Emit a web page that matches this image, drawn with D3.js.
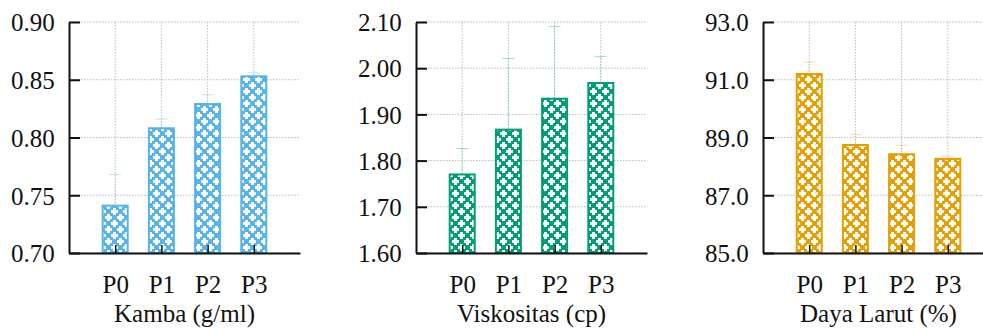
<!DOCTYPE html>
<html>
<head>
<meta charset="utf-8">
<script src="https://cdn.jsdelivr.net/npm/d3@7"></script>
<style>
  body { margin: 0; background: #fff; }
  svg text { fill: #111; }
</style>
</head>
<body>
<div id="chart"></div>
<script>
// data
const categories = ["P0", "P1", "P2", "P3"];

const kamba = [0.741, 0.808, 0.829, 0.853];
const kambaErr = [0.027, 0.008, 0.008, 0.003];
const kambaTicks = [0.70, 0.75, 0.80, 0.85, 0.90];

const viskositas = [1.770, 1.867, 1.934, 1.968];
const viskositasErr = [0.056, 0.154, 0.156, 0.057];
const viskositasTicks = [1.60, 1.70, 1.80, 1.90, 2.00, 2.10];

const dayaLarut = [91.20, 88.74, 88.42, 88.26];
const dayaLarutErr = [0.41, 0.36, 0.31, 0.09];
const dayaLarutTicks = [85, 87, 89, 91, 93];

const panels = [
  { title: "Kamba (g/ml)", values: kamba, errs: kambaErr, ticks: kambaTicks, fmt: d3.format(".2f"), color: "#56b4e9" },
  { title: "Viskositas (cp)", values: viskositas, errs: viskositasErr, ticks: viskositasTicks, fmt: d3.format(".2f"), color: "#009e73" },
  { title: "Daya Larut (%)", values: dayaLarut, errs: dayaLarutErr, ticks: dayaLarutTicks, fmt: d3.format(".1f"), color: "#e69f00" }
];

const W = 983, H = 329;
const plotW = 231, plotH = 231;
const plotTop = 22;
const lefts = [69, 416, 763];
const barW = 25;
const serif = "'Liberation Serif', 'Times New Roman', Times, 'DejaVu Serif', serif";

const svg = d3.select("#chart").append("svg")
  .attr("width", W)
  .attr("height", H)
  .style("font-family", serif);

const defs = svg.append("defs");

panels.forEach(function(p, i) {
  // cross pattern for the bar fill
  const pat = defs.append("pattern")
    .attr("id", "pat" + i)
    .attr("patternUnits", "userSpaceOnUse")
    .attr("width", 12)
    .attr("height", 12);
  pat.append("rect").attr("width", 12).attr("height", 12).attr("fill", p.color);
  [[0, 2, 7, 3], [2, 0, 3, 7], [6, 8, 6, 3], [0, 8, 1, 3], [8, 6, 3, 6], [8, 0, 3, 1]].forEach(function(r) {
    pat.append("rect")
      .attr("x", r[0]).attr("y", r[1])
      .attr("width", r[2]).attr("height", r[3])
      .attr("fill", "#fff");
  });

  const g = svg.append("g")
    .attr("transform", "translate(" + lefts[i] + "," + plotTop + ")");

  const x = d3.scalePoint()
    .domain(categories)
    .range([0, plotW])
    .padding(1);

  const y = d3.scaleLinear()
    .domain(d3.extent(p.ticks))
    .range([plotH, 0]);

  // grid
  g.append("g").selectAll("line")
    .data(p.ticks)
    .enter().append("line")
    .attr("x1", 0).attr("x2", plotW)
    .attr("y1", d => y(d)).attr("y2", d => y(d))
    .attr("stroke", "#bbb")
    .attr("stroke-dasharray", "1.5,1.5");

  g.append("g").selectAll("line")
    .data(categories)
    .enter().append("line")
    .attr("x1", d => x(d)).attr("x2", d => x(d))
    .attr("y1", 0).attr("y2", plotH)
    .attr("stroke", "#bbb")
    .attr("stroke-dasharray", "1.5,1.5");

  // error bars (faint, behind the bars)
  const eb = g.append("g")
    .attr("stroke", p.color)
    .attr("stroke-width", 1);
  categories.forEach(function(c, j) {
    const cx = x(c);
    const hi = y(p.values[j] + p.errs[j]);
    const lo = y(p.values[j] - p.errs[j]);
    eb.append("line").attr("x1", cx).attr("x2", cx).attr("y1", hi).attr("y2", lo)
      .attr("stroke-opacity", 0.2);
    eb.append("line").attr("x1", cx - 6).attr("x2", cx + 6).attr("y1", hi).attr("y2", hi)
      .attr("stroke-opacity", 0.35);
  });

  // bars
  g.selectAll("rect.bar")
    .data(p.values)
    .enter().append("rect")
    .attr("class", "bar")
    .attr("x", (d, j) => x(categories[j]) - barW / 2)
    .attr("y", d => y(d))
    .attr("width", barW)
    .attr("height", d => plotH - y(d))
    .attr("fill", "url(#pat" + i + ")")
    .attr("stroke", p.color)
    .attr("stroke-width", 2);

  // y axis with inward ticks
  const yAxis = g.append("g")
    .call(d3.axisRight(y).tickValues(p.ticks).tickFormat(p.fmt).tickSize(11).tickSizeOuter(0))
    .attr("font-family", null)
    .attr("font-size", null);
  yAxis.select(".domain").attr("stroke", "#111").attr("stroke-width", 2);
  yAxis.selectAll(".tick line").attr("stroke", "#111").attr("stroke-width", 2);
  yAxis.selectAll(".tick text")
    .attr("x", -58)
    .attr("text-anchor", "start")
    .attr("dy", "0.35em")
    .style("font-size", "25px");

  // x axis with inward ticks
  const xAxis = g.append("g")
    .attr("transform", "translate(0," + plotH + ")")
    .call(d3.axisTop(x).tickSize(8).tickSizeOuter(0))
    .attr("font-family", null)
    .attr("font-size", null);
  xAxis.select(".domain").attr("stroke", "#111").attr("stroke-width", 2);
  xAxis.selectAll(".tick line").attr("stroke", "#111").attr("stroke-width", 1.5);
  xAxis.selectAll(".tick text")
    .attr("y", 40)
    .attr("dy", 0)
    .style("font-size", "25px");

  // axis title
  g.append("text")
    .attr("x", (x(categories[0]) + x(categories[3])) / 2)
    .attr("y", 300)
    .attr("text-anchor", "middle")
    .style("font-size", "25px")
    .text(p.title);
});
</script>
</body>
</html>
